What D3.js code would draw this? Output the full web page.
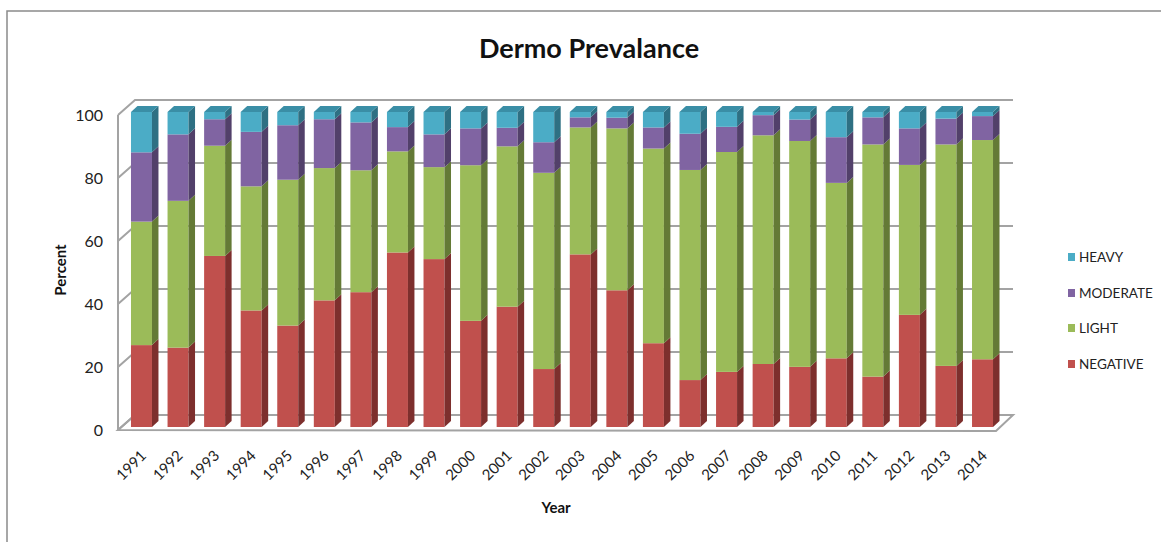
<!DOCTYPE html>
<html>
<head>
<meta charset="utf-8">
<script src="https://cdn.jsdelivr.net/npm/d3@7"></script>
<style>
  html, body { margin: 0; padding: 0; background: #fff; }
  svg { display: block; font-family: Lato, "Open Sans", "Liberation Sans", sans-serif; }
</style>
</head>
<body>
<svg id="chart" width="1161" height="542"></svg>
<script>
// Dermo prevalence by infection class, percent of oysters sampled per year
const years = ["1991","1992","1993","1994","1995","1996","1997","1998","1999","2000","2001","2002",
               "2003","2004","2005","2006","2007","2008","2009","2010","2011","2012","2013","2014"];
const negative = [26.0,25.2,54.3,37.0,32.2,40.2,42.8,55.4,53.3,33.7,38.2,18.4,
                  54.8,43.4,26.6,14.9,17.5,20.0,19.1,21.8,16.0,35.6,19.4,21.5];
const light    = [39.2,46.6,35.0,39.4,46.3,42.0,38.7,32.1,29.2,49.4,50.9,62.3,
                  40.3,51.4,61.8,66.7,69.8,72.6,71.7,55.7,73.7,47.6,70.3,69.6];
const moderate = [22.0,21.1,8.4,17.3,17.3,15.5,15.2,7.7,10.4,11.7,5.9,9.7,
                  3.2,3.4,6.7,11.5,8.0,6.4,6.8,14.5,8.6,11.6,8.2,7.6];
const heavy    = [12.8,7.1,2.3,6.3,4.2,2.3,3.3,4.8,7.1,5.2,5.0,9.6,
                  1.7,1.8,4.9,6.9,4.7,1.0,2.4,8.0,1.7,5.2,2.1,1.3];
const seriesNames = ["NEGATIVE","LIGHT","MODERATE","HEAVY"];
const yTicks = [0,20,40,60,80,100];

const colors = {
  NEGATIVE: {front:"#C0504D", side:"#7D2F2D", top:"#A5413F"},
  LIGHT:    {front:"#9BBB59", side:"#647A36", top:"#86A34A"},
  MODERATE: {front:"#8064A2", side:"#52406A", top:"#6C5490"},
  HEAVY:    {front:"#4BACC6", side:"#2E7083", top:"#3A8EA6"}
};

const svg = d3.select("#chart");

// Outer chart frame
svg.append("rect").attr("x",7).attr("y",11).attr("width",1170).attr("height",560)
  .attr("fill","none").attr("stroke","#8a8a8a").attr("stroke-width",1.5);

// Title
svg.append("text").attr("x",589).attr("y",58).attr("text-anchor","middle")
  .attr("font-size",27).attr("font-weight","bold").attr("fill","#111")
  .text("Dermo Prevalance");

// 3D geometry: front plane, wall depth, bar depth
const wallDX = 17, wallDY = -15;
const barDX = 6.5, barDY = -6;
const yFront = d3.scaleLinear().domain([0,100]).range([430,115]);
const yBar   = d3.scaleLinear().domain([0,100]).range([427,112]);
const x = d3.scaleBand().domain(years).range([118,1006]).paddingInner(0.426).paddingOuter(0.355);
const xLeft = 118, xRightFront = 996;

const walls = svg.append("g").attr("stroke","#a3a3a3").attr("fill","none").attr("stroke-width",2);

// Floor
walls.append("path")
  .attr("d", `M${xLeft},${yFront(0)} L${xRightFront},${yFront(0)+1} L${xRightFront+wallDX},${yFront(0)+wallDY} L${xLeft+wallDX},${yFront(0)+wallDY} Z`)
  .attr("fill","#fff");

// Gridlines on the back wall and side wall
yTicks.forEach(v => {
  walls.append("path")
    .attr("d", `M${xLeft},${yFront(v)} L${xLeft+wallDX},${yFront(v)+wallDY} L${xRightFront+wallDX},${yFront(v)+wallDY}`);
});
// Left axis edge
walls.append("line").attr("x1",xLeft).attr("x2",xLeft).attr("y1",yFront(0)).attr("y2",yFront(100));

// Stacked data
const table = years.map((yr,i) => ({year:yr, NEGATIVE:negative[i], LIGHT:light[i], MODERATE:moderate[i], HEAVY:heavy[i]}));
const stack = d3.stack().keys(seriesNames)(table);

const bars = svg.append("g");
const w = x.bandwidth();
years.forEach((yr,i) => {
  const g = bars.append("g");
  stack.forEach((layer, k) => {
    const [v0, v1] = layer[i];
    const c = colors[layer.key];
    const x0 = x(yr), x1 = x0 + w;
    const yb = yBar(v0), yt = yBar(v1);
    g.append("rect").attr("x",x0).attr("y",yt).attr("width",w).attr("height",yb-yt).attr("fill",c.front);
    g.append("path")
      .attr("d",`M${x1},${yb} L${x1+barDX},${yb+barDY} L${x1+barDX},${yt+barDY} L${x1},${yt} Z`)
      .attr("fill",c.side);
    if (k === stack.length-1) {
      g.append("path")
        .attr("d",`M${x0},${yt} L${x1},${yt} L${x1+barDX},${yt+barDY} L${x0+barDX},${yt+barDY} Z`)
        .attr("fill",c.top);
    }
  });
});

// Y axis tick labels
svg.append("g").selectAll("text").data(yTicks).join("text")
  .attr("x",103).attr("y",d => yFront(d)).attr("dy","0.35em")
  .attr("text-anchor","end").attr("font-size",16).attr("fill","#222")
  .text(d => d);

// X axis tick labels, rotated
svg.append("g").selectAll("text").data(years).join("text")
  .attr("transform", d => `translate(${x(d)+w/2+2},${453}) rotate(-45)`)
  .attr("text-anchor","end").attr("dy","0.35em")
  .attr("font-size",15).attr("fill","#222")
  .text(d => d);

// Axis titles
svg.append("text").attr("transform","translate(66,270) rotate(-90)")
  .attr("text-anchor","middle").attr("font-size",15).attr("font-weight","bold").attr("fill","#111")
  .text("Percent");
svg.append("text").attr("x",556).attr("y",513).attr("text-anchor","middle")
  .attr("font-size",15).attr("font-weight","bold").attr("fill","#111")
  .text("Year");

// Legend
const legendItems = ["HEAVY","MODERATE","LIGHT","NEGATIVE"];
const legendY = [257,293,328,364];
const legend = svg.append("g");
legendItems.forEach((name,i) => {
  legend.append("rect").attr("x",1068).attr("y",legendY[i]-4).attr("width",7).attr("height",8)
    .attr("fill",colors[name].front);
  legend.append("text").attr("x",1079).attr("y",legendY[i]).attr("dy","0.35em")
    .attr("font-size",13.5).attr("fill","#222").text(name);
});
</script>
</body>
</html>
